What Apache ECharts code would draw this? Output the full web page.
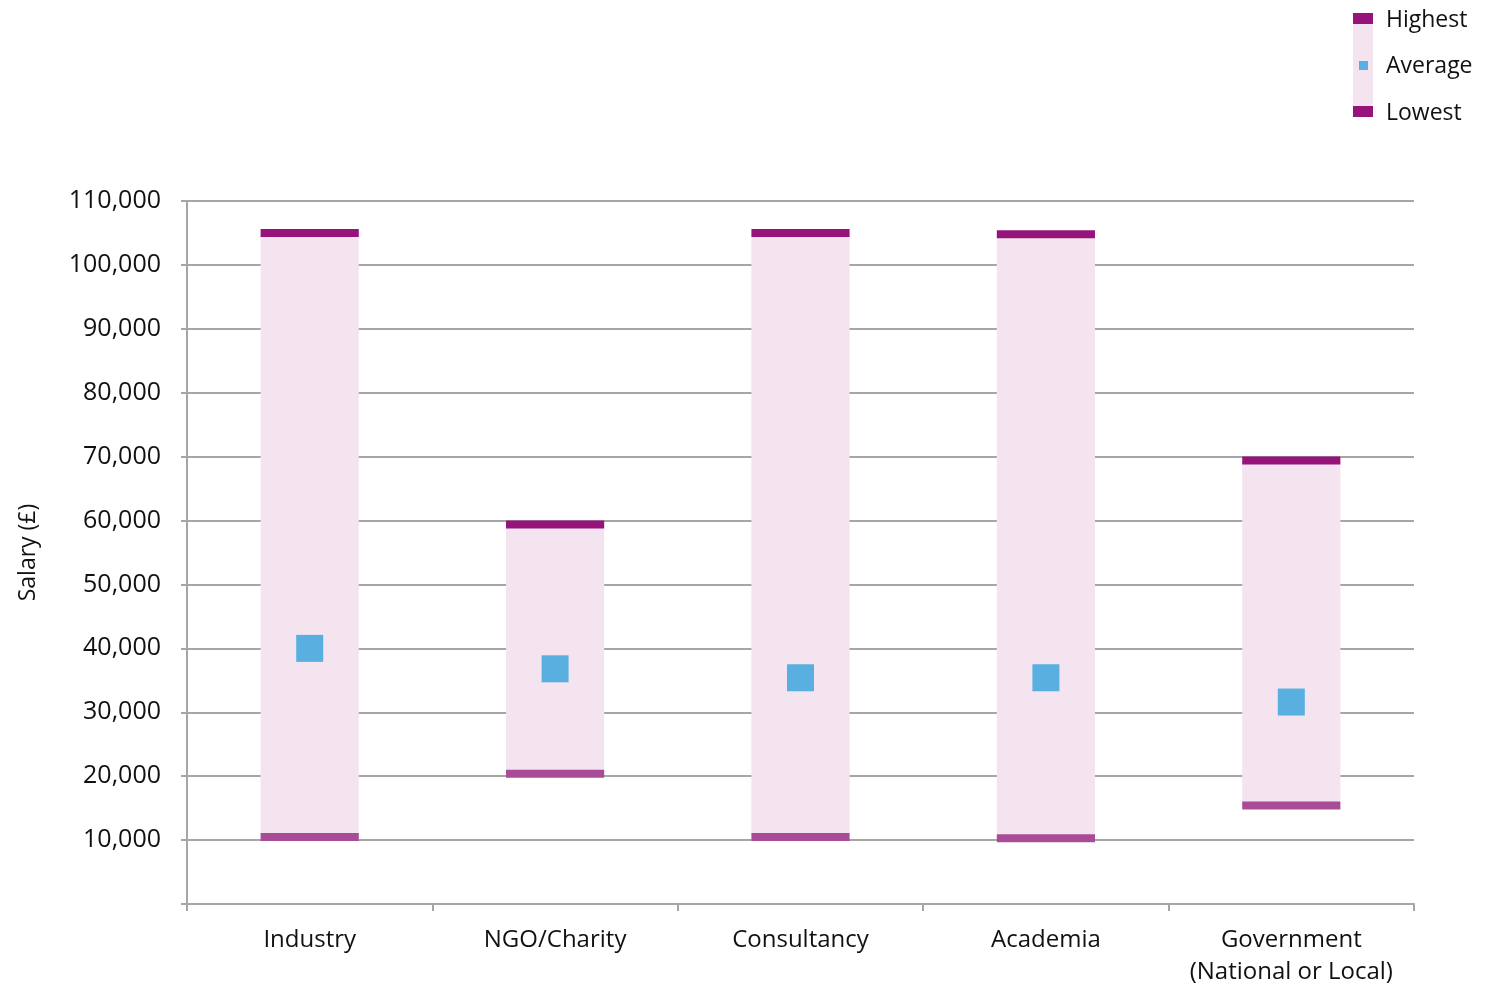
<!DOCTYPE html>
<html>
<head>
<meta charset="utf-8">
<script src="https://cdn.jsdelivr.net/npm/echarts@6/dist/echarts.min.js"></script>
<style>
  html, body { margin: 0; padding: 0; background: #ffffff; }
  #chart { width: 1495px; height: 986px; }
</style>
</head>
<body>
<div id="chart"></div>
<script>
// Salary ranges by sector
const categories = ['Industry', 'NGO/Charity', 'Consultancy', 'Academia', 'Government\n(National or Local)'];
const highest = [105000, 59400, 105000, 104800, 69400];
const lowest  = [10500, 20400, 10500, 10300, 15400];
const average = [40000, 36800, 35400, 35400, 31600];
const yTicks = [0, 10000, 20000, 30000, 40000, 50000, 60000, 70000, 80000, 90000, 100000, 110000];

const FONT = 'Open Sans';
const BAND = '#f3e4f0';
const HIGH = '#97137c';
const LOW = '#a84c98';
const AVG = '#5aafe1';
const GRID = '#a6a6a6';

const chart = echarts.init(document.getElementById('chart'), null, { renderer: 'canvas' });

// Draws a horizontal block for each category, either spanning two values
// or a fixed-thickness marker centred on one value.
function blockRenderer(getFrom, getTo, color, thickness) {
  return function (params, api) {
    const idx = api.value(0);
    const w = api.size([1, 0])[0] * 0.4;
    const c = api.coord([idx, 0])[0];
    let y0, y1;
    if (thickness) {
      const y = api.coord([idx, getFrom(params.dataIndex)])[1];
      y0 = y - thickness / 2; y1 = y + thickness / 2;
    } else {
      y0 = api.coord([idx, getTo(params.dataIndex)])[1];
      y1 = api.coord([idx, getFrom(params.dataIndex)])[1];
    }
    return {
      type: 'rect',
      shape: { x: c - w / 2, y: y0, width: w, height: y1 - y0 },
      style: { fill: color }
    };
  };
}

const idxData = categories.map((_, i) => [i]);

const option = {
  animation: false,
  textStyle: { fontFamily: FONT },
  grid: { left: 187, right: 81, top: 201, bottom: 82, containLabel: false, outerBoundsMode: 'none' },
  xAxis: {
    type: 'category',
    data: categories,
    boundaryGap: true,
    axisLine: { lineStyle: { color: GRID, width: 2 } },
    axisTick: { show: true, length: 7, lineStyle: { color: GRID, width: 2 } },
    axisLabel: { color: '#111', fontSize: 24, fontFamily: FONT, margin: 20, lineHeight: 32, interval: 0 }
  },
  yAxis: {
    type: 'value',
    min: yTicks[0],
    max: yTicks[yTicks.length - 1],
    interval: yTicks[1] - yTicks[0],
    name: 'Salary (£)',
    nameLocation: 'middle',
    nameGap: 147,
    nameRotate: 90,
    nameTextStyle: { color: '#111', fontSize: 23, fontFamily: FONT },
    axisLine: { show: true, lineStyle: { color: GRID, width: 2 } },
    axisTick: { show: true, length: 6, lineStyle: { color: GRID, width: 2 } },
    axisLabel: {
      color: '#111', fontSize: 25, fontFamily: FONT, margin: 26,
      formatter: v => v === 0 ? '' : v.toLocaleString('en-GB')
    },
    splitLine: { show: true, lineStyle: { color: GRID, width: 2 } }
  },
  series: [
    {
      name: 'Range', type: 'custom', data: idxData, z: 2,
      renderItem: blockRenderer(i => lowest[i], i => highest[i], BAND, 0)
    },
    {
      name: 'Lowest', type: 'custom', data: idxData, z: 3,
      renderItem: blockRenderer(i => lowest[i], null, LOW, 8)
    },
    {
      name: 'Highest', type: 'custom', data: idxData, z: 3,
      renderItem: blockRenderer(i => highest[i], null, HIGH, 8)
    },
    {
      name: 'Average', type: 'scatter', z: 4,
      data: average.map((v, i) => [i, v]),
      symbol: 'rect', symbolSize: 27,
      itemStyle: { color: AVG, opacity: 1 }
    }
  ],
  graphic: [
    { type: 'rect', left: 1353, top: 13, shape: { width: 20, height: 104 }, style: { fill: BAND } },
    { type: 'rect', left: 1353, top: 13, shape: { width: 20, height: 11 }, style: { fill: HIGH } },
    { type: 'rect', left: 1353, top: 106, shape: { width: 20, height: 11 }, style: { fill: HIGH } },
    { type: 'rect', left: 1359, top: 61, shape: { width: 9, height: 9 }, style: { fill: AVG } },
    { type: 'text', left: 1386, top: 9, style: { text: 'Highest', fill: '#111', font: '23px "Open Sans"' } },
    { type: 'text', left: 1386, top: 55, style: { text: 'Average', fill: '#111', font: '23px "Open Sans"' } },
    { type: 'text', left: 1386, top: 102, style: { text: 'Lowest', fill: '#111', font: '23px "Open Sans"' } }
  ]
};

chart.setOption(option);
</script>
</body>
</html>
